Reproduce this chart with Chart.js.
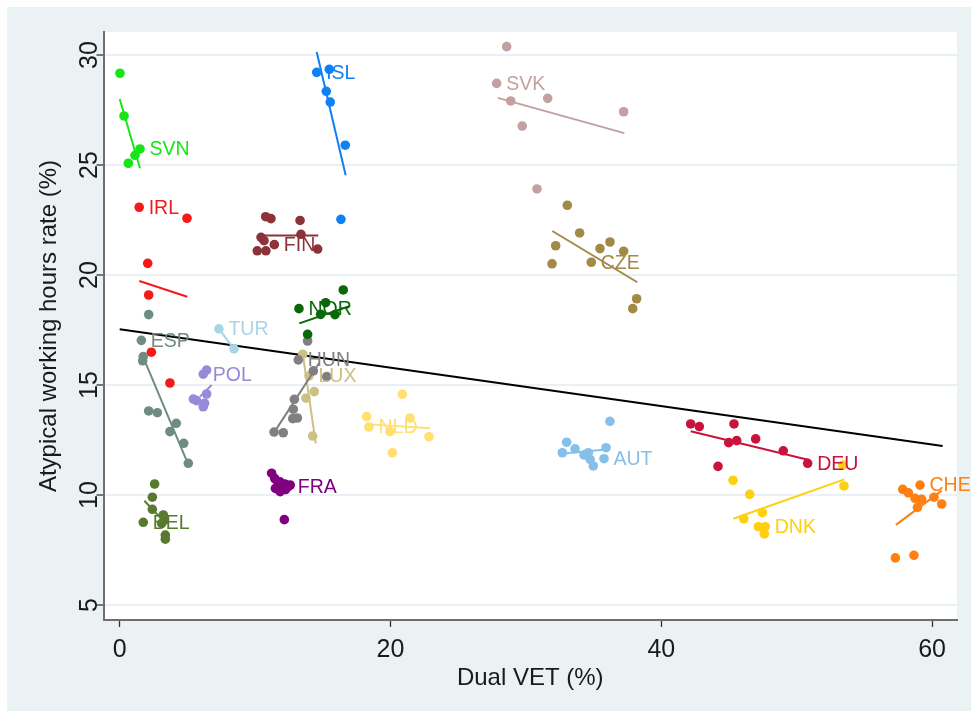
<!DOCTYPE html>
<html><head><meta charset="utf-8">
<script src="https://cdn.jsdelivr.net/npm/chart.js@4.4.1/dist/chart.umd.min.js"></script>
<style>html,body{margin:0;padding:0;background:#fff;}canvas{display:block;}</style>
</head><body>
<canvas id="c" width="971" height="711"></canvas>
<script>
// ---------- data ----------
const xTicks = [0, 20, 40, 60];
const yTicks = [5, 10, 15, 20, 25, 30];
const xTitle = 'Dual VET (%)';
const yTitle = 'Atypical working hours rate (%)';
const countries = ['SVN','IRL','ISL','FIN','NOR','TUR','ESP','POL','HUN','LUX','NLD','FRA','BEL','SVK','CZE','AUT','DEU','DNK','CHE'];

// points: [Dual VET %, atypical hours %]; the first point carries the country label
const SVN = [[1.5,25.73],[0.02,29.17],[0.32,27.23],[1.13,25.44],[0.64,25.08]];
const IRL = [[1.44,23.08],[4.97,22.58],[2.07,20.53],[2.14,19.09],[2.34,16.49],[3.71,15.09]];
const ISL = [[14.55,29.21],[15.48,29.35],[15.26,28.35],[15.55,27.86],[16.66,25.9],[16.34,22.53]];
const FIN = [[11.42,21.38],[10.78,22.65],[11.17,22.56],[13.32,22.48],[10.44,21.71],[10.66,21.56],[13.39,21.85],[10.16,21.1],[10.8,21.1],[14.62,21.18]];
const NOR = [[13.24,18.47],[16.51,19.32],[15.21,18.74],[14.84,18.21],[15.9,18.2],[13.88,17.3]];
const TUR = [[7.33,17.55],[8.44,16.64]];
const ESP = [[1.6,17.03],[2.14,18.2],[1.74,16.29],[1.7,16.1],[2.14,13.82],[2.78,13.74],[4.18,13.26],[3.71,12.88],[4.73,12.35],[5.07,11.44]];
const POL = [[6.17,15.49],[6.42,15.68],[5.44,14.36],[5.68,14.29],[6.42,14.59],[6.27,14.17],[6.17,14.01]];
const HUN = [[13.19,16.14],[13.88,17.0],[15.29,15.38],[14.3,15.64],[12.9,14.35],[12.82,13.9],[12.78,13.47],[13.12,13.5],[11.4,12.86],[12.08,12.83]];
const LUX = [[13.98,15.41],[13.52,16.4],[14.37,14.7],[13.76,14.4],[14.25,12.68]];
const NLD = [[18.41,13.09],[20.87,14.58],[18.24,13.56],[21.44,13.5],[19.96,12.88],[22.84,12.65],[20.14,11.92]];
const FRA = [[12.45,10.38],[11.22,10.99],[11.45,10.75],[11.84,10.6],[12.2,10.5],[11.5,10.3],[11.85,10.15],[12.25,10.25],[11.7,10.45],[12.6,10.45],[12.16,8.88]];
const BEL = [[1.74,8.76],[2.58,10.5],[2.41,9.9],[2.41,9.35],[3.22,9.09],[3.3,8.86],[3.1,8.71],[3.37,8.18],[3.37,7.99]];
const SVK = [[27.84,28.71],[28.58,30.38],[28.88,27.91],[31.61,28.03],[37.22,27.42],[29.73,26.77],[30.82,23.91]];
const CZE = [[34.83,20.58],[33.06,23.17],[33.97,21.91],[32.2,21.33],[36.21,21.5],[35.47,21.2],[37.22,21.08],[31.93,20.51],[38.18,18.92],[37.89,18.47]];
const AUT = [[35.77,11.65],[36.21,13.35],[33.01,12.4],[32.69,11.92],[33.63,12.1],[34.29,11.82],[34.61,11.92],[34.74,11.62],[34.98,11.32],[35.92,12.15]];
const DEU = [[50.81,11.44],[42.17,13.23],[42.81,13.11],[45.37,13.23],[44.98,12.38],[45.57,12.47],[46.97,12.55],[49.01,12.01],[44.19,11.3]];
const DNK = [[47.68,8.56],[53.4,11.36],[53.49,10.41],[45.3,10.67],[46.53,10.03],[47.46,9.2],[46.09,8.92],[47.17,8.56],[47.61,8.23]];
const CHE = [[59.11,10.45],[57.83,10.26],[58.25,10.1],[58.74,9.85],[59.23,9.8],[60.14,9.9],[60.71,9.59],[58.92,9.44],[57.29,7.14],[58.66,7.26]];

// fitted lines (end points)
const SVN_fit = [[0,28.0],[1.5,24.85]];
const IRL_fit = [[1.45,19.73],[4.99,19.01]];
const ISL_fit = [[14.55,30.14],[16.69,24.53]];
const FIN_fit = [[10.6,21.79],[14.67,21.79]];
const NOR_fit = [[13.27,17.8],[17.0,18.59]];
const TUR_fit = [[7.33,17.55],[8.44,16.64]];
const ESP_fit = [[1.72,16.29],[5.13,11.29]];
const POL_fit = [[5.93,14.47],[6.79,15.0]];
const HUN_fit = [[11.6,13.03],[14.74,16.01]];
const LUX_fit = [[13.5,16.51],[14.48,12.35]];
const NLD_fit = [[18.49,13.21],[22.92,13.03]];
const FRA_fit = [[11.3,10.6],[12.6,10.4]];
const BEL_fit = [[1.82,9.74],[3.05,8.94]];
const SVK_fit = [[27.92,28.05],[37.27,26.45]];
const CZE_fit = [[31.95,22.0],[38.23,19.67]];
const AUT_fit = [[32.76,11.89],[35.92,12.07]];
const DEU_fit = [[42.17,12.9],[50.98,11.58]];
const DNK_fit = [[45.32,8.92],[53.52,10.71]];
const CHE_fit = [[57.33,8.64],[60.71,10.2]];
const ALL_fit = [[0,17.53],[60.78,12.23]];

// ---------- styles ----------
const colors = {
  SVN:'#16e616', IRL:'#f21a1a', ISL:'#0f80f5', FIN:'#8b3338', NOR:'#0a680a', TUR:'#a9d6e6',
  ESP:'#6f8c80', POL:'#968bd8', HUN:'#808080', LUX:'#cdc084', NLD:'#ffe070', FRA:'#800080',
  BEL:'#587a2f', SVK:'#c4a0a0', CZE:'#a08a46', AUT:'#85c0ea', DEU:'#c8143c', DNK:'#ffd010', CHE:'#ff8010'
};
const pts = {SVN,IRL,ISL,FIN,NOR,TUR,ESP,POL,HUN,LUX,NLD,FRA,BEL,SVK,CZE,AUT,DEU,DNK,CHE};
const fits = {SVN:SVN_fit,IRL:IRL_fit,ISL:ISL_fit,FIN:FIN_fit,NOR:NOR_fit,TUR:TUR_fit,ESP:ESP_fit,POL:POL_fit,HUN:HUN_fit,LUX:LUX_fit,NLD:NLD_fit,FRA:FRA_fit,BEL:BEL_fit,SVK:SVK_fit,CZE:CZE_fit,AUT:AUT_fit,DEU:DEU_fit,DNK:DNK_fit,CHE:CHE_fit};
const toXY = a => a.map(p => ({x:p[0], y:p[1]}));

const FONT = '"Liberation Sans", Arial, sans-serif';
const datasets = [];
countries.forEach(c => {
  datasets.push({type:'scatter', label:c, data:toXY(pts[c]), backgroundColor:colors[c], borderColor:colors[c], borderWidth:0, radius:4.8, pointRadius:4.8, pointHoverRadius:4.8});
  datasets.push({type:'line', label:c+' fit', data:toXY(fits[c]), borderColor:colors[c], borderWidth:2, pointRadius:0, fill:false, tension:0});
});
datasets.push({type:'line', label:'all', data:toXY(ALL_fit), borderColor:'#000', borderWidth:2, pointRadius:0, fill:false});

const deco = {
  id:'deco',
  beforeDraw(chart){
    const ctx = chart.ctx, a = chart.chartArea;
    ctx.save();
    ctx.fillStyle = '#ffffff'; ctx.fillRect(0,0,chart.width,chart.height);
    ctx.fillStyle = '#eaf2f3'; ctx.fillRect(7,7,chart.width-7,chart.height-7);
    ctx.fillStyle = '#ffffff'; ctx.fillRect(a.left,a.top,a.right-a.left,a.bottom-a.top);
    ctx.restore();
  },
  afterDatasetsDraw(chart){
    const ctx = chart.ctx, xs = chart.scales.x, ys = chart.scales.y;
    ctx.save();
    ctx.font = '19.5px ' + FONT;
    ctx.textBaseline = 'middle'; ctx.textAlign = 'left';
    countries.forEach(c => {
      const p = pts[c][0];
      ctx.fillStyle = colors[c];
      ctx.fillText(c, xs.getPixelForValue(p[0]) + 9.5, ys.getPixelForValue(p[1]) + 1);
    });
    ctx.restore();
  },
  afterDraw(chart){
    const ctx = chart.ctx, xs = chart.scales.x, ys = chart.scales.y, a = chart.chartArea;
    ctx.save();
    ctx.fillStyle = '#1a1a1a';
    ctx.font = '25px ' + FONT;
    ctx.textAlign = 'center'; ctx.textBaseline = 'alphabetic';
    xTicks.forEach(v => ctx.fillText(String(v), xs.getPixelForValue(v), 657));
    yTicks.forEach(v => {
      ctx.save();
      ctx.translate(97, ys.getPixelForValue(v));
      ctx.rotate(-Math.PI/2);
      ctx.fillText(String(v), 0, 0);
      ctx.restore();
    });
    ctx.font = '24px ' + FONT;
    ctx.fillText(xTitle, (a.left + a.right)/2, 685);
    ctx.save();
    ctx.translate(56, (a.top + a.bottom)/2);
    ctx.rotate(-Math.PI/2);
    ctx.fillText(yTitle, 0, 0);
    ctx.restore();
    ctx.restore();
  }
};

new Chart(document.getElementById('c'), {
  type:'scatter',
  data:{datasets},
  options:{
    responsive:false, animation:false, devicePixelRatio:1,
    layout:{padding:{top:32, right:14, left:0, bottom:0}},
    plugins:{legend:{display:false}, tooltip:{enabled:false}},
    scales:{
      x:{type:'linear', min:-1.196, max:61.84,
         afterBuildTicks(s){ s.ticks = xTicks.map(v => ({value:v})); },
         ticks:{display:false},
         grid:{drawOnChartArea:false, drawTicks:true, tickLength:7, tickColor:'#333', tickWidth:1.3},
         border:{display:true, color:'#6e6e6e', width:2},
         afterFit(s){ s.height = 91; }},
      y:{type:'linear', min:4.318, max:31.045,
         afterBuildTicks(s){ s.ticks = yTicks.map(v => ({value:v})); },
         ticks:{display:false},
         grid:{drawOnChartArea:true, color:'#eaf0f3', lineWidth:2, drawTicks:true, tickLength:7, tickColor:'#333', tickWidth:1.3},
         border:{display:true, color:'#6e6e6e', width:2},
         afterFit(s){ s.width = 103.5; }}
    }
  },
  plugins:[deco]
});
</script>
</body></html>
